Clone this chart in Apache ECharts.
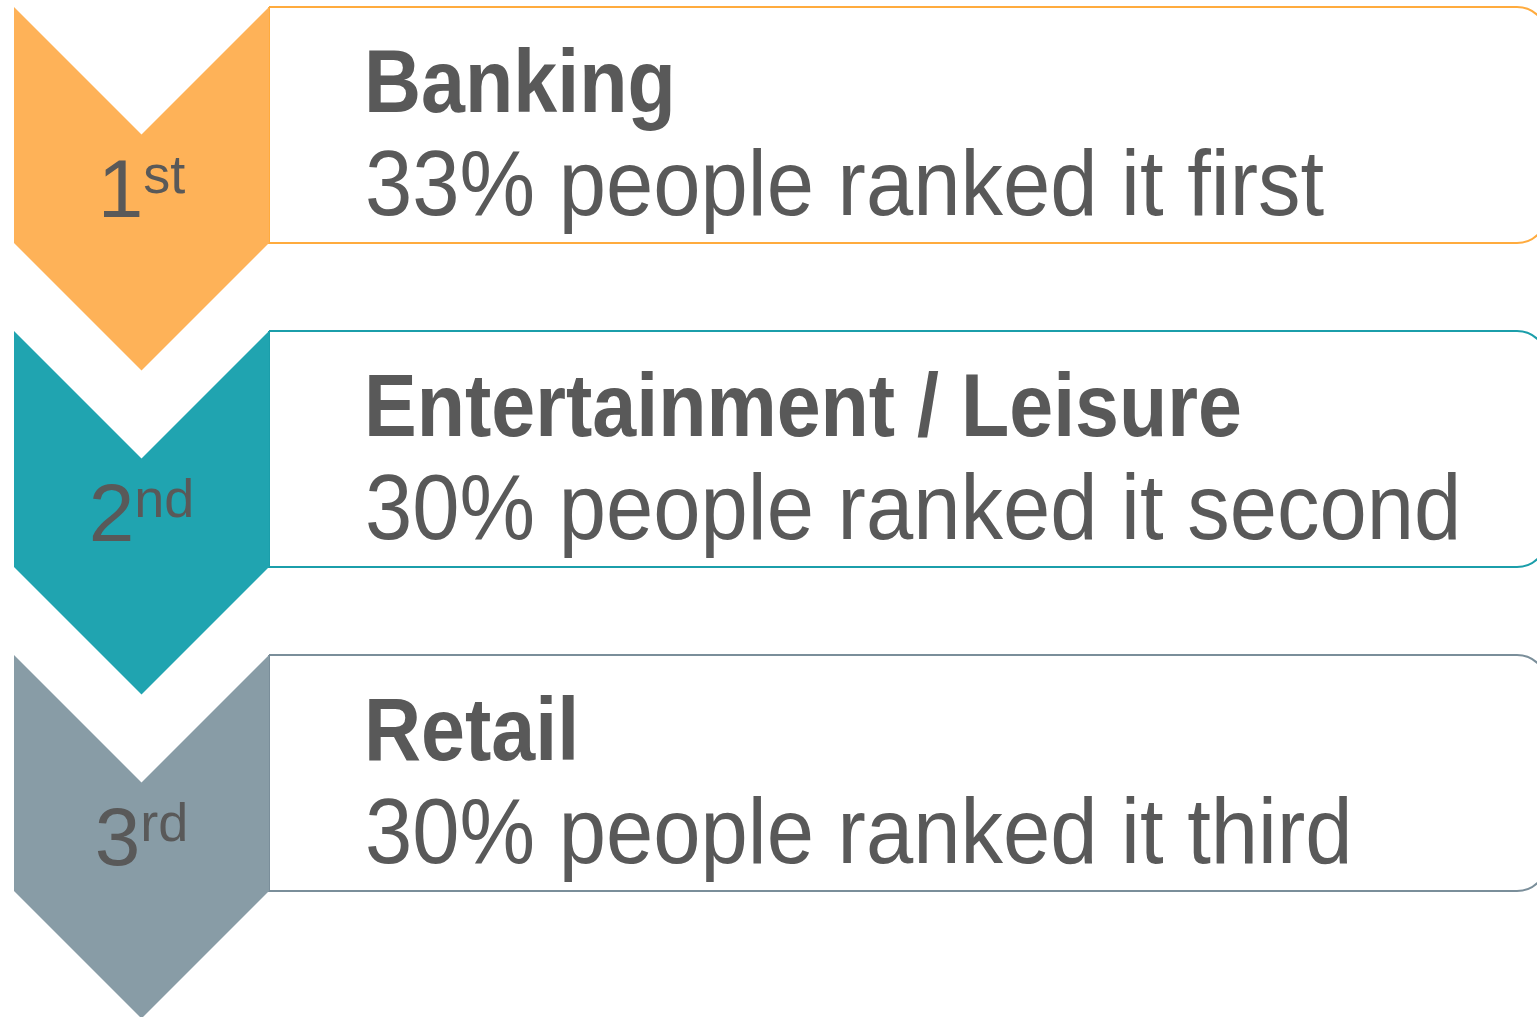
<!DOCTYPE html>
<html>
<head>
<meta charset="utf-8">
<title>Ranking</title>
<script src="https://cdn.jsdelivr.net/npm/echarts@6/dist/echarts.min.js"></script>
<style>
html, body { margin: 0; padding: 0; background: #fff; }
#chart { width: 1537px; height: 1017px; }
</style>
</head>
<body>
<div id="chart"></div>
<script>
// chart data
const ranks = ['1', '2', '3'];
const suffixes = ['st', 'nd', 'rd'];
const sectors = ['Banking', 'Entertainment / Leisure', 'Retail'];
const shares = [33, 30, 30];
const ordinals = ['first', 'second', 'third'];

const fills = ['#FEB258', '#20A4B0', '#889CA6'];
const borders = ['#FFAB3E', '#1B9EAA', '#7A8E9A'];
const textColor = '#595959';
const font = '"Liberation Sans", Arial, sans-serif';
const MID = 0.27; // canvas 'middle' to alphabetic baseline, in em

const measure = document.createElement('canvas').getContext('2d');
function textWidth(str, size, weight) {
    measure.font = (weight || 'normal') + ' ' + size + 'px ' + font;
    return measure.measureText(str).width;
}

// text placed by its baseline, optionally stretched vertically
function baselineText(x, y, str, size, weight, align, sy) {
    return {
        type: 'text',
        x: x,
        y: y,
        scaleY: sy || 1,
        style: {
            x: 0,
            y: -MID * size,
            text: str,
            fill: textColor,
            fontSize: size,
            fontWeight: weight || 'normal',
            fontFamily: font,
            align: align || 'left',
            verticalAlign: 'middle'
        }
    };
}

function renderItem(params, api) {
    const i = api.value(1);
    const c = api.coord([0, i]);
    const band = api.size([0, 1])[1];
    const k = band / 324;
    const left = c[0];
    const top = c[1] - band / 2;
    const cw = 255 * k, v = cw / 2, ch = 236 * k;
    const cx = left + cw / 2;
    const boxX = left + cw;

    // rank number with superscript, centred on the chevron
    const dSize = 82 * k, sSize = 54 * k;
    const dw = textWidth(ranks[i], dSize), sw = textWidth(suffixes[i], sSize);
    const start = cx - (dw + sw) / 2;

    return {
        type: 'group',
        children: [
            {
                type: 'rect',
                shape: { x: boxX, y: top, width: api.getWidth() + 10 - boxX, height: ch, r: [0, 30, 30, 0] },
                style: { fill: '#fff', stroke: borders[i], lineWidth: 2 }
            },
            {
                type: 'polygon',
                shape: {
                    points: [
                        [left, top], [cx, top + v], [left + cw, top],
                        [left + cw, top + ch], [cx, top + ch + v], [left, top + ch]
                    ]
                },
                style: { fill: fills[i] }
            },
            baselineText(start, top + 210 * k, ranks[i], dSize, 'normal', 'left', 1),
            baselineText(start + dw, top + 186 * k, suffixes[i], sSize, 'normal', 'left', 1),
            baselineText(boxX + 95 * k, top + 104 * k, sectors[i], 79 * k, 'bold', 'left', 1.12),
            baselineText(boxX + 96 * k, top + 207 * k,
                shares[i] + '% people ranked it ' + ordinals[i], 85 * k, 'normal', 'left', 1.08)
        ]
    };
}

const chart = echarts.init(document.getElementById('chart'));
chart.setOption({
    animation: false,
    grid: { left: 14, right: 0, top: 7, bottom: 38 },
    xAxis: { type: 'value', min: 0, max: 1523, show: false },
    yAxis: { type: 'category', data: sectors, inverse: true, show: false },
    series: [{
        type: 'custom',
        renderItem: renderItem,
        encode: { x: 0, y: 1 },
        data: sectors.map((s, i) => [0, i])
    }]
});
</script>
</body>
</html>
